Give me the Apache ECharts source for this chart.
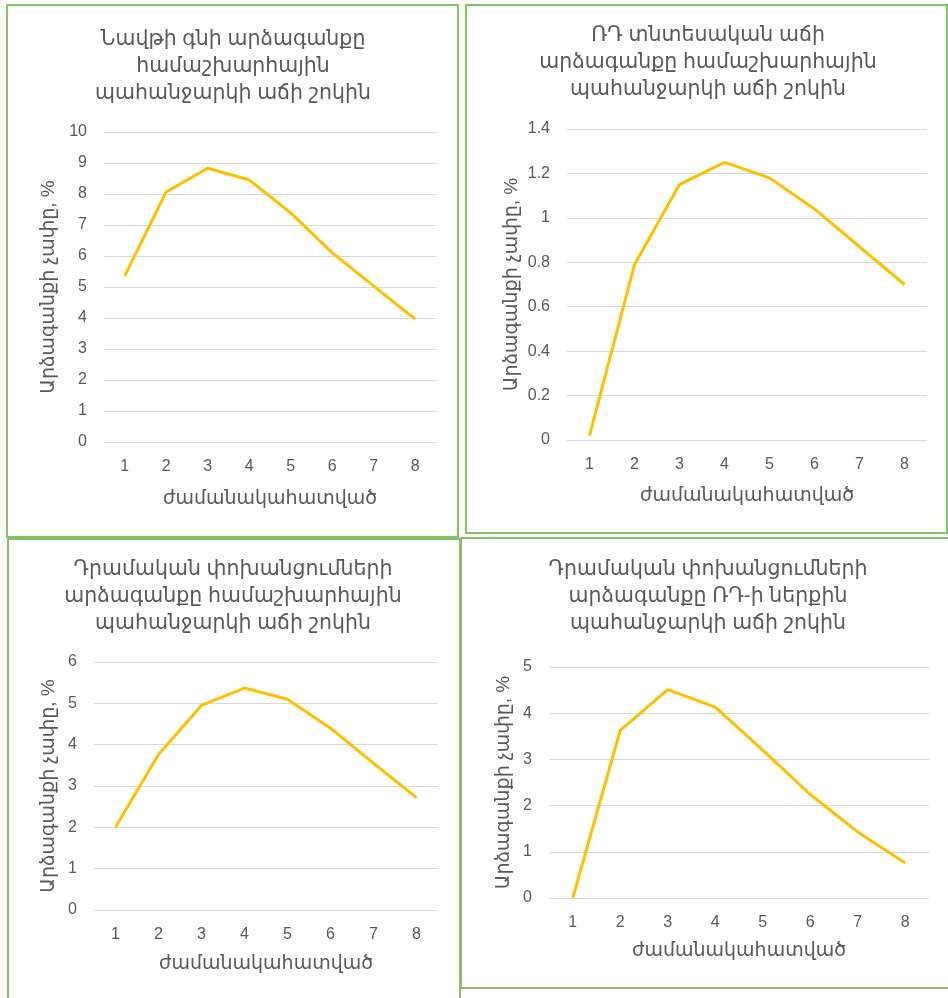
<!DOCTYPE html>
<html>
<head>
<meta charset="utf-8">
<script src="https://cdn.jsdelivr.net/npm/echarts@6/dist/echarts.min.js"></script>
<style>
  html, body { margin: 0; padding: 0; background: #ffffff; }
  #chart { width: 948px; height: 998px; }
</style>
</head>
<body>
<div id="chart"></div>
<script>
// Periods on the horizontal axis
const periods = ['1', '2', '3', '4', '5', '6', '7', '8'];

// Impulse responses, % (one array per panel)
const oilPriceResponse = [5.36, 8.07, 8.83, 8.45, 7.39, 6.1, 5.03, 3.96];
const ruGrowthResponse = [0.02, 0.79, 1.15, 1.25, 1.18, 1.04, 0.87, 0.70];
const remittWorldResponse = [2.0, 3.76, 4.95, 5.37, 5.1, 4.4, 3.55, 2.72];
const remittRuResponse = [0.0, 3.63, 4.51, 4.13, 3.2, 2.24, 1.43, 0.76];

// Panel titles
const titles = [
  'Նավթի գնի արձագանքը\nհամաշխարհային\nպահանջարկի աճի շոկին',
  'ՌԴ տնտեսական աճի\nարձագանքը համաշխարհային\nպահանջարկի աճի շոկին',
  'Դրամական փոխանցումների\nարձագանքը համաշխարհային\nպահանջարկի աճի շոկին',
  'Դրամական փոխանցումների\nարձագանքը ՌԴ-ի ներքին\nպահանջարկի աճի շոկին'
];
const xName = 'ժամանակահատված';
const yName = 'Արձագանքի չափը, %';

// Value-axis ranges
const yMax = [10, 1.4, 6, 5];
const yStep = [1, 0.2, 1, 1];

const series = [oilPriceResponse, ruGrowthResponse, remittWorldResponse, remittRuResponse];

const FONT = "'Liberation Sans', 'DejaVu Sans', sans-serif";
const TEXT = '#595959';

// Layout of the four panels
const panels = [
  { grid: { left: 104, top: 132, width: 332, height: 310 }, titleX: 233, titleY: 26, xGap: 47, yGap: 46, frame: [7, 5, 451, 532] },
  { grid: { left: 567, top: 129, width: 360, height: 311 }, titleX: 708, titleY: 22, xGap: 46, yGap: 46, frame: [466, 5, 481, 528] },
  { grid: { left: 94, top: 662, width: 344, height: 248 }, titleX: 233, titleY: 556, xGap: 44, yGap: 36, frame: [8, 539, 452, 470] },
  { grid: { left: 549, top: 667, width: 380, height: 231 }, titleX: 708, titleY: 556, xGap: 43, yGap: 36, frame: [461, 538, 488, 450] }
];

const option = {
  backgroundColor: '#ffffff',
  animation: false,
  title: panels.map((p, i) => ({
    text: titles[i],
    left: p.titleX,
    top: p.titleY,
    textAlign: 'center',
    padding: 0,
    textStyle: { fontFamily: FONT, fontSize: 20.5, fontWeight: 'normal', color: TEXT, lineHeight: 27 }
  })),
  grid: panels.map(p => p.grid),
  xAxis: panels.map((p, i) => ({
    type: 'category',
    gridIndex: i,
    data: periods,
    boundaryGap: true,
    name: xName,
    nameLocation: 'middle',
    nameGap: p.xGap,
    nameTextStyle: { fontFamily: FONT, fontSize: 19, color: TEXT },
    axisLine: { show: false },
    axisTick: { show: false },
    axisLabel: { fontFamily: FONT, fontSize: 16, color: TEXT, margin: 17 }
  })),
  yAxis: panels.map((p, i) => ({
    type: 'value',
    gridIndex: i,
    min: 0,
    max: yMax[i],
    interval: yStep[i],
    name: yName,
    nameLocation: 'middle',
    nameGap: p.yGap,
    nameTextStyle: { fontFamily: FONT, fontSize: 19, color: TEXT },
    axisLine: { show: false },
    axisTick: { show: false },
    axisLabel: { fontFamily: FONT, fontSize: 16, color: TEXT, margin: 17 },
    splitLine: { lineStyle: { color: '#D9D9D9', width: 1 } }
  })),
  series: series.map((d, i) => ({
    type: 'line',
    xAxisIndex: i,
    yAxisIndex: i,
    data: d,
    symbol: 'none',
    lineStyle: { color: '#FFC000', width: 3 }
  })),
  graphic: panels.map(p => ({
    type: 'rect',
    shape: { x: p.frame[0], y: p.frame[1], width: p.frame[2], height: p.frame[3] },
    style: { fill: 'none', stroke: '#86C16A', lineWidth: 2 },
    silent: true
  }))
};

const chart = echarts.init(document.getElementById('chart'), null, { renderer: 'canvas' });
chart.setOption(option);
</script>
</body>
</html>
